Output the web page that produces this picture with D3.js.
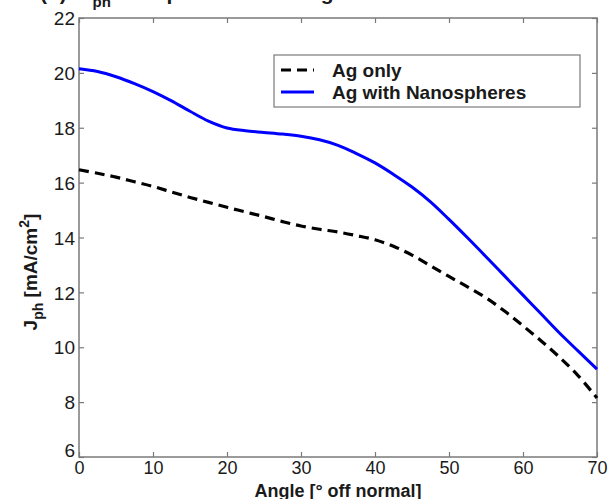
<!DOCTYPE html>
<html>
<head>
<meta charset="utf-8">
<script src="https://cdn.jsdelivr.net/npm/d3@7"></script>
<style>
  body { margin: 0; background: #fff; }
  text { font-family: "Liberation Sans", Arial, sans-serif; fill: #1a1a1a; }
</style>
</head>
<body>
<div id="chartDiv"></div>
<script>
// angle values, degrees off normal
var angles = [0, 2.5, 5, 7.5, 10, 12.5, 15, 17.5, 20, 22.5, 25, 27.5, 30, 32.5, 35,
              37.5, 40, 42.5, 45, 47.5, 50, 52.5, 55, 57.5, 60, 62.5, 65, 67.5, 70];
// Ag only
var agOnly = [16.47, 16.34, 16.2, 16.03, 15.86, 15.66, 15.46, 15.28, 15.1, 14.93, 14.76, 14.58, 14.42, 14.3, 14.2,
              14.07, 13.92, 13.68, 13.36, 12.97, 12.58, 12.2, 11.8, 11.32, 10.78, 10.22, 9.62, 8.95, 8.15];
// Ag with Nanospheres
var agNano = [20.15, 20.05, 19.86, 19.61, 19.32, 18.98, 18.6, 18.24, 17.99, 17.89, 17.83, 17.77, 17.69, 17.56, 17.36,
              17.06, 16.72, 16.3, 15.84, 15.3, 14.66, 13.99, 13.3, 12.6, 11.9, 11.2, 10.5, 9.85, 9.2];
var xTicks = [0, 10, 20, 30, 40, 50, 60, 70];
var yTicks = [6, 8, 10, 12, 14, 16, 18, 20, 22];
var seriesNames = ["Ag only", "Ag with Nanospheres"];

var W = 612, H = 499;
var margin = {top: 18, right: 15, bottom: 42, left: 79},
    width = W - margin.left - margin.right,
    height = H - margin.top - margin.bottom;

var svg = d3.select("#chartDiv").append("svg")
    .attr("width", W)
    .attr("height", H);

// title, mostly cut off at the top edge
var title = svg.append("text")
    .attr("x", 40).attr("y", 0)
    .style("font-size", "21px").style("font-weight", "bold");
title.append("tspan").text("(b)");
title.append("tspan").attr("dx", 14).text("J");
title.append("tspan").attr("dy", 7).style("font-size", "15px").text("ph");
title.append("tspan").attr("x", 142).attr("dy", -7).text("dependence");
title.append("tspan").attr("x", 262).text("on Angle");

var g = svg.append("g")
    .attr("transform", "translate(" + margin.left + "," + margin.top + ")");

var x = d3.scaleLinear().domain([0, 70]).range([0, width]);
var y = d3.scaleLinear().domain([6, 22]).range([height, 0]);

// box axes, ticks pointing inwards (matlab style)
var axisColor = "#7a7a7a";
function styleAxis(sel) {
  sel.select(".domain").remove();
  sel.selectAll(".tick line").attr("stroke", axisColor).attr("stroke-width", 1.2);
}
g.append("g").attr("transform", "translate(0," + height + ")")
  .call(d3.axisBottom(x).tickValues(xTicks).tickSize(-5).tickPadding(5))
  .call(styleAxis)
  .selectAll(".tick text").style("font-size", "18px").attr("dy", "0.68em");
g.append("g")
  .call(d3.axisTop(x).tickValues(xTicks).tickSize(-5).tickFormat(""))
  .call(styleAxis);
g.append("g")
  .call(d3.axisLeft(y).tickValues(yTicks).tickSize(-5).tickPadding(4))
  .call(styleAxis)
  .selectAll(".tick text").style("font-size", "19px")
    .attr("dy", function(d) { return d === 6 ? "-0.05em" : "0.35em"; });
g.append("g").attr("transform", "translate(" + width + ",0)")
  .call(d3.axisRight(y).tickValues(yTicks).tickSize(-5).tickFormat(""))
  .call(styleAxis);
g.selectAll(".tick text").attr("fill", "#1a1a1a");

g.append("rect")
  .attr("width", width).attr("height", height)
  .attr("fill", "none").attr("stroke", axisColor).attr("stroke-width", 1.5);

var line = d3.line()
  .x(function(d, i) { return x(angles[i]); })
  .y(function(d) { return y(d); })
  .curve(d3.curveCatmullRom);

g.append("path")
  .attr("d", line(agOnly))
  .attr("fill", "none").attr("stroke", "#000")
  .attr("stroke-width", 3.2).attr("stroke-dasharray", "10,6");
g.append("path")
  .attr("d", line(agNano))
  .attr("fill", "none").attr("stroke", "#0000ff")
  .attr("stroke-width", 3);

// legend
var leg = svg.append("g").attr("transform", "translate(274,55)");
leg.append("rect").attr("width", 306).attr("height", 52)
  .attr("fill", "#fff").attr("stroke", axisColor).attr("stroke-width", 1.2);
var legStyles = [{stroke: "#000", dash: "10,6"}, {stroke: "#0000ff", dash: null}];
seriesNames.forEach(function(name, i) {
  var ly = 15 + i * 22;
  leg.append("line").attr("x1", 7).attr("x2", 40).attr("y1", ly).attr("y2", ly)
    .attr("stroke", legStyles[i].stroke).attr("stroke-width", 3)
    .attr("stroke-dasharray", legStyles[i].dash);
  leg.append("text").attr("x", 58).attr("y", ly + 7)
    .style("font-size", "19px").style("font-weight", "bold").text(name);
});

// axis titles
svg.append("text")
  .attr("x", margin.left + width / 2).attr("y", 497)
  .attr("text-anchor", "middle")
  .style("font-size", "18px").style("font-weight", "bold")
  .text("Angle [° off normal]");

var yl = svg.append("text")
  .attr("transform", "translate(37,272) rotate(-90)")
  .attr("text-anchor", "middle")
  .style("font-size", "19px").style("font-weight", "bold");
yl.append("tspan").text("J");
yl.append("tspan").attr("dy", 6).style("font-size", "14px").text("ph");
yl.append("tspan").attr("dy", -6).text(" [mA/cm");
yl.append("tspan").attr("dy", -8).style("font-size", "14px").text("2");
yl.append("tspan").attr("dy", 8).text("]");
</script>
</body>
</html>
